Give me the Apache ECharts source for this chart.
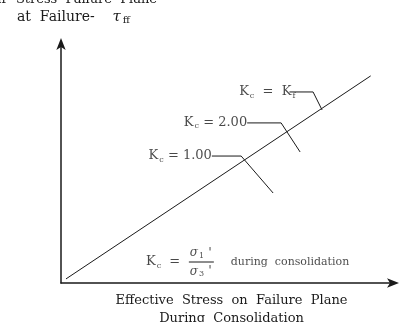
<!DOCTYPE html>
<html>
<head>
<meta charset="utf-8">
<title>chart</title>
<script src="https://cdn.jsdelivr.net/npm/echarts@6/dist/echarts.min.js"></script>
<style>
  html, body { margin: 0; padding: 0; background: #fff; }
  #main { width: 399px; height: 322px; }
</style>
</head>
<body>
<div id="main"></div>
<script>
// failure envelope (effective stress vs shear stress at failure)
var envelope = [[1.5, 1.7], [93, 86.3]];
// Kc labels and their leader lines (start, elbow, end)
var kcNames = ['1.00', '2.00', 'Kf'];
var leaders = [
  [[45.3, 52.9], [54.1, 52.9], [63.7, 37.5]],
  [[55.9, 66.7], [66.1, 66.7], [71.8, 54.6]],
  [[68.6, 79.6], [75.7, 79.6], [78.4, 72.1]]
];
// formula pieces: Kc = s1'/s3' during consolidation
var formulaLeft = [25.5, 8.75];
var fracBar = [[38.4, 8.75], [45.9, 8.75]];
var numer = [42, 12.4];
var denom = [42, 4.8];
var formulaRight = [51, 8.75];

var FONT = 'DejaVu Serif';
var INK = '#1a1a1a';

var rich = {
  k: { fontFamily: FONT, fontSize: 13, color: INK },
  m: { fontFamily: FONT, fontSize: 11, color: INK },
  s: { fontFamily: FONT, fontSize: 8, color: INK, padding: [7, 0, 0, 1] },
  g: { fontFamily: FONT, fontSize: 12, fontStyle: 'italic', color: INK },
  n: { fontFamily: FONT, fontSize: 8, color: INK, padding: [5, 0, 0, 1] },
  t: { fontFamily: FONT, fontSize: 14, color: INK },
  tg: { fontFamily: FONT, fontSize: 15, fontStyle: 'italic', color: INK },
  tn: { fontFamily: FONT, fontSize: 10, color: INK, padding: [6, 0, 0, 2] }
};

function kcText(v) {
  if (v == 'Kf') return '{k|K}{s|c}{k|  =  K}{s|f}';
  return '{k|K}{s|c}{k| = ' + v + '}';
}

var series = [];
series.push({
  type: 'line', data: envelope, symbol: 'none',
  lineStyle: { color: INK, width: 1 }, silent: true
});
for (var i = 0; i < leaders.length; i++) {
  series.push({
    type: 'line', data: leaders[i], symbol: 'none',
    lineStyle: { color: INK, width: 1 }, silent: true
  });
  series.push({
    type: 'scatter', symbolSize: 0, silent: true,
    data: [leaders[i][0]],
    label: {
      show: true, position: 'left', distance: (i == 2 ? -6 : 0),
      formatter: kcText(kcNames[i]), rich: rich
    }
  });
}
series.push({
  type: 'line', data: fracBar, symbol: 'none',
  lineStyle: { color: INK, width: 1 }, silent: true
});
series.push({
  type: 'scatter', symbolSize: 0, silent: true,
  data: [
    { value: formulaLeft, label: { position: 'right', formatter: '{k|K}{s|c}{k|  =}' } },
    { value: numer, label: { position: 'inside', formatter: "{g|σ}{n|1}{k| '}" } },
    { value: denom, label: { position: 'inside', formatter: "{g|σ}{n|3}{k| '}" } },
    { value: formulaRight, label: { position: 'right', formatter: '{m|during  consolidation}' } }
  ],
  label: { show: true, distance: 0, rich: rich }
});

var chart = echarts.init(document.getElementById('main'));
chart.setOption({
  animation: false,
  backgroundColor: '#fff',
  grid: { left: 61, right: 5, top: 43, bottom: 39, outerBoundsMode: 'none', containLabel: false },
  xAxis: {
    type: 'value', min: 0, max: 100,
    axisLine: { symbol: ['none', 'arrow'], symbolSize: [7, 12], symbolOffset: [0, 5], lineStyle: { color: INK, width: 1.5 } },
    axisTick: { show: false }, axisLabel: { show: false }, splitLine: { show: false },
    name: 'Effective  Stress  on  Failure  Plane\nDuring  Consolidation',
    nameLocation: 'middle', nameGap: 9,
    nameTextStyle: { fontFamily: FONT, fontSize: 13, color: INK, lineHeight: 18, padding: [0, 0, 0, 8] }
  },
  yAxis: {
    type: 'value', min: 0, max: 100,
    axisLine: { symbol: ['none', 'arrow'], symbolSize: [7, 12], symbolOffset: [0, 5], lineStyle: { color: INK, width: 1.5 } },
    axisTick: { show: false }, axisLabel: { show: false }, splitLine: { show: false }
  },
  graphic: [
    {
      type: 'text', x: 157, y: 6,
      style: {
        text: 'Shear  Stress  Failure  Plane', fontFamily: FONT, fontSize: 13, fill: INK,
        align: 'right', verticalAlign: 'bottom'
      }
    },
    {
      type: 'text', x: 17, y: 17,
      style: {
        text: '{t|at  Failure-}    {tg|τ}{tn|ff}', rich: rich, fill: INK,
        fontFamily: FONT, fontSize: 14, verticalAlign: 'middle'
      }
    }
  ],
  series: series
});
</script>
</body>
</html>
